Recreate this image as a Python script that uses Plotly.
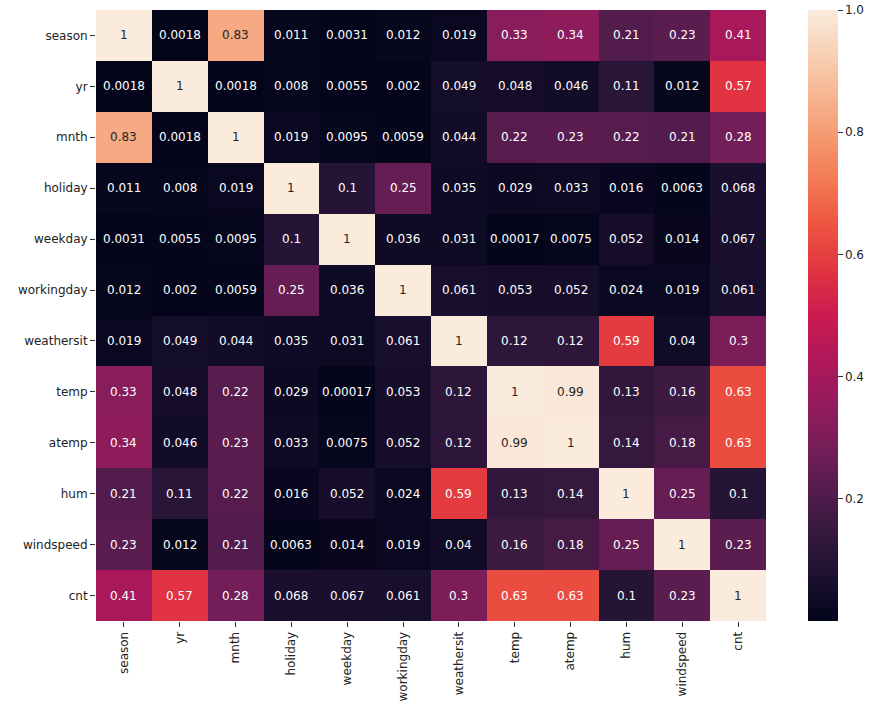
import plotly.graph_objects as go

labels = ["season", "yr", "mnth", "holiday", "weekday", "workingday",
          "weathersit", "temp", "atemp", "hum", "windspeed", "cnt"]

season     = [1, 0.0018, 0.83, 0.011, 0.0031, 0.012, 0.019, 0.33, 0.34, 0.21, 0.23, 0.41]
yr         = [0.0018, 1, 0.0018, 0.008, 0.0055, 0.002, 0.049, 0.048, 0.046, 0.11, 0.012, 0.57]
mnth       = [0.83, 0.0018, 1, 0.019, 0.0095, 0.0059, 0.044, 0.22, 0.23, 0.22, 0.21, 0.28]
holiday    = [0.011, 0.008, 0.019, 1, 0.1, 0.25, 0.035, 0.029, 0.033, 0.016, 0.0063, 0.068]
weekday    = [0.0031, 0.0055, 0.0095, 0.1, 1, 0.036, 0.031, 0.00017, 0.0075, 0.052, 0.014, 0.067]
workingday = [0.012, 0.002, 0.0059, 0.25, 0.036, 1, 0.061, 0.053, 0.052, 0.024, 0.019, 0.061]
weathersit = [0.019, 0.049, 0.044, 0.035, 0.031, 0.061, 1, 0.12, 0.12, 0.59, 0.04, 0.3]
temp       = [0.33, 0.048, 0.22, 0.029, 0.00017, 0.053, 0.12, 1, 0.99, 0.13, 0.16, 0.63]
atemp      = [0.34, 0.046, 0.23, 0.033, 0.0075, 0.052, 0.12, 0.99, 1, 0.14, 0.18, 0.63]
hum        = [0.21, 0.11, 0.22, 0.016, 0.052, 0.024, 0.59, 0.13, 0.14, 1, 0.25, 0.1]
windspeed  = [0.23, 0.012, 0.21, 0.0063, 0.014, 0.019, 0.04, 0.16, 0.18, 0.25, 1, 0.23]
cnt        = [0.41, 0.57, 0.28, 0.068, 0.067, 0.061, 0.3, 0.63, 0.63, 0.1, 0.23, 1]

z = [season, yr, mnth, holiday, weekday, workingday,
     weathersit, temp, atemp, hum, windspeed, cnt]

cbar_ticks = [0.2, 0.4, 0.6, 0.8, 1.0]

# seaborn "rocket" colormap approximation
rocket = [
    (0.0, "#03051a"),
    (0.0714, "#1c1030"),
    (0.1429, "#35193e"),
    (0.2143, "#541c4d"),
    (0.2857, "#761e59"),
    (0.3571, "#951b5c"),
    (0.4286, "#b0175a"),
    (0.5, "#cc1b50"),
    (0.5714, "#e13342"),
    (0.6429, "#ed5240"),
    (0.7143, "#f37651"),
    (0.7857, "#f5966d"),
    (0.8571, "#f6b48f"),
    (0.9286, "#f8d0b5"),
    (1.0, "#faebdd"),
]

zmin = min(min(r) for r in z)
zmax = max(max(r) for r in z)


def hex2rgb(h):
    h = h.lstrip("#")
    return [int(h[i:i + 2], 16) / 255 for i in (0, 2, 4)]


def color_at(t):
    for (p0, c0), (p1, c1) in zip(rocket[:-1], rocket[1:]):
        if p0 <= t <= p1:
            f = (t - p0) / (p1 - p0) if p1 > p0 else 0
            a, b = hex2rgb(c0), hex2rgb(c1)
            return [a[i] + (b[i] - a[i]) * f for i in range(3)]
    return hex2rgb(rocket[-1][1])


def lum(rgb):
    out = []
    for c in rgb:
        out.append(c / 12.92 if c <= 0.03928 else ((c + 0.055) / 1.055) ** 2.4)
    return 0.2126 * out[0] + 0.7152 * out[1] + 0.0722 * out[2]


fig = go.Figure()
fig.add_trace(go.Heatmap(
    z=z, x=labels, y=labels,
    zmin=zmin, zmax=zmax,
    colorscale=[[p, c] for p, c in rocket],
    xgap=0, ygap=0,
    colorbar=dict(
        thickness=30, len=611, lenmode="pixels",
        x=1.0627, xanchor="left", xpad=0,
        y=1, yanchor="top", ypad=0,
        outlinewidth=0,
        tickvals=cbar_ticks, ticktext=[f"{v:.1f}" for v in cbar_ticks],
        ticks="outside", ticklen=5, tickcolor="#333",
        tickfont=dict(family="DejaVu Sans", size=12, color="#222"),
    ),
    hoverinfo="skip",
))

annotations = []
for i, row in enumerate(z):
    for j, v in enumerate(row):
        t = (v - zmin) / (zmax - zmin)
        col = "#262626" if lum(color_at(t)) > 0.408 else "#ffffff"
        annotations.append(dict(
            x=labels[j], y=labels[i], text=format(v, ".2g"),
            showarrow=False,
            font=dict(family="DejaVu Sans", size=12, color=col),
        ))

fig.update_layout(
    width=886, height=713,
    margin=dict(l=96, r=120, t=10, b=92),
    paper_bgcolor="white", plot_bgcolor="white",
    annotations=annotations,
    xaxis=dict(
        tickangle=-90, ticks="outside", ticklen=5, tickcolor="#333",
        tickfont=dict(family="DejaVu Sans", size=12, color="#222"),
        showgrid=False, zeroline=False, showline=False,
    ),
    yaxis=dict(
        autorange="reversed", ticks="outside", ticklen=5, tickcolor="#333",
        tickfont=dict(family="DejaVu Sans", size=12, color="#222"),
        showgrid=False, zeroline=False, showline=False,
    ),
)

fig.write_html("out.html",
               config={"displayModeBar": False},
               post_script="document.body.style.margin='0';document.body.style.overflow='hidden';")
